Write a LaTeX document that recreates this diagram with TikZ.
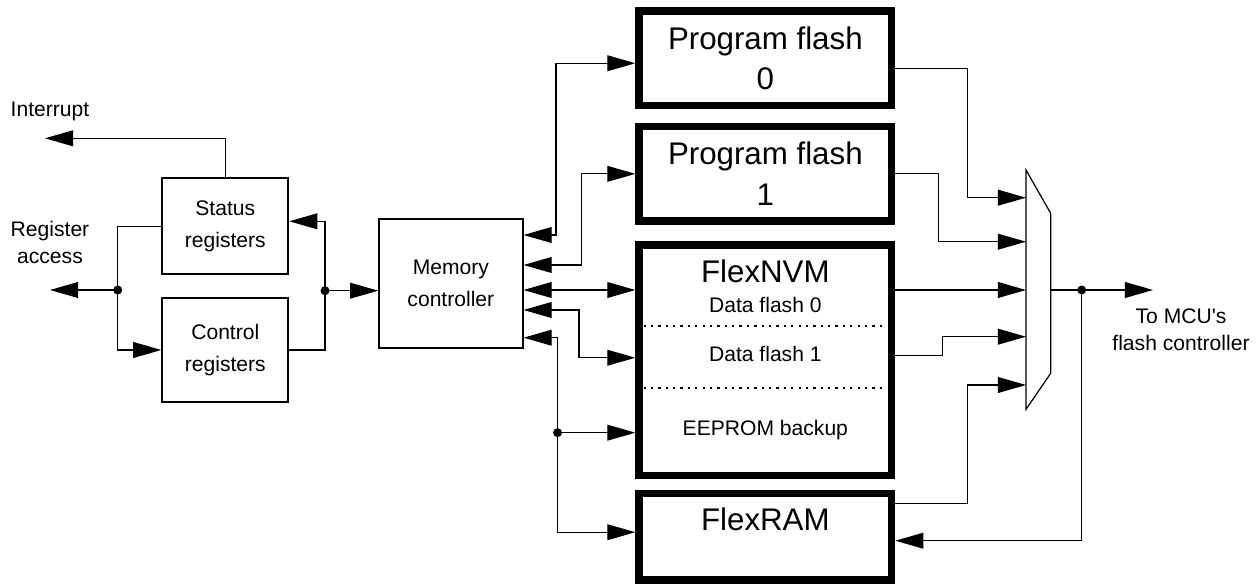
\documentclass[tikz,border=0pt]{standalone}
\usepackage{fontspec}
\setmainfont{Liberation Sans}
\usetikzlibrary{arrows.meta,calc}

\begin{document}
\begin{tikzpicture}[
        >={Triangle[length=16pt,width=9pt]},
        regbox/.style={draw, line width=1.1pt, align=center, inner sep=0pt,
            font=\fontsize{12}{18}\selectfont},
        memblock/.style={draw, line width=4.25pt, minimum width=5.05cm, align=center,
            inner sep=0pt, font=\fontsize{17.8}{23}\selectfont},
        bigtext/.style={font=\fontsize{17.8}{23}\selectfont},
        smalltext/.style={font=\fontsize{12}{15.5}\selectfont, align=center},
        wire/.style={line width=0.7pt},
        sep/.style={line width=1.3pt, dash pattern=on 1.3pt off 2.9pt}
    ]
        \useasboundingbox (0,0) rectangle (25.2,11.68);

        % register side
        \node[regbox, minimum width=2.52cm, minimum height=1.92cm] (status) at (4.506,7.154) {Status\\registers};
        \node[regbox, minimum width=2.52cm, minimum height=2.07cm] (control) at (4.506,4.68) {Control\\registers};
        \node[regbox, minimum width=2.87cm, minimum height=2.59cm] (mc) at (9.017,6.007) {Memory\\controller};

        \node[smalltext] (intlabel) at (1.0,9.45) {Interrupt};
        \node[smalltext] (reglabel) at (1.0,6.83) {Register\\access};

        \coordinate (intr) at (0.9,8.914);
        \coordinate (regacc) at (1.0,5.88);
        \coordinate (dotL) at (2.354,5.88);
        \coordinate (dotR) at (6.5,5.866);

        \draw[wire,->] (status.north) |- (intr);
        \draw[wire,->] (dotL) -- (regacc);
        \draw[wire] (dotL) |- (status.west);
        \draw[wire,->] (dotL) |- (control.west);
        \draw[wire] (control.east) -| (dotR);
        \draw[wire,->] (dotR) |- ([yshift=0.1cm]status.east);
        \draw[wire,->] (dotR) -- (dotR -| mc.west);
        \fill (dotL) circle (0.09);
        \fill (dotR) circle (0.09);

        % memories
        \node[memblock, minimum height=1.89cm] (pf0) at (15.307,10.515) {Program flash\\0};
        \node[memblock, minimum height=1.89cm] (pf1) at (15.307,8.203) {Program flash\\1};
        \node[memblock, minimum height=4.61cm] (nvm) at (15.307,4.475) {};
        \node[memblock, minimum height=1.73cm] (ram) at (15.307,0.946) {};

        \node[bigtext] (nvmname) at (15.307,6.246) {FlexNVM};
        \node[smalltext] (df0) at (15.307,5.58) {Data flash 0};
        \node[smalltext] (df1) at (15.307,4.606) {Data flash 1};
        \node[smalltext] (eeprom) at (15.307,3.08) {EEPROM backup};
        \node[bigtext] (ramname) at (15.307,1.3) {FlexRAM};

        \draw[sep] (12.87,5.16) -- (17.74,5.16);
        \draw[sep] (12.87,3.926) -- (17.74,3.926);

        \coordinate (mc1) at ([yshift=0.973cm]mc.east);
        \coordinate (mc2) at ([yshift=0.373cm]mc.east);
        \coordinate (mc3) at ([yshift=-0.127cm]mc.east);
        \coordinate (mc4) at ([yshift=-0.527cm]mc.east);
        \coordinate (mc5) at ([yshift=-1.081cm]mc.east);
        \coordinate (dotM) at ($(mc5)+(0.68,-1.9)$);

        \draw[wire,<->] (mc1) -- ++(0.65,0) |- ([yshift=-0.1cm]pf0.west);
        \draw[wire,<->] (mc2) -- ++(1.16,0) |- (pf1.west);
        \draw[wire,<->] (mc3) -- (mc3 -| nvm.west);
        \draw[wire,<->] (mc4) -- ++(1.11,0) |- ([yshift=0.05cm]nvm.west);
        \draw[wire,<->] (mc5) -- ++(0.68,0) |- ([yshift=0.09cm]ram.west);
        \draw[wire,->] (dotM) -- (dotM -| nvm.west);
        \fill (dotM) circle (0.09);

        % output mux
        \draw[wire] (20.52,8.28) -- (21.014,7.414) -- (21.014,4.214) -- (20.52,3.494) -- cycle;
        \coordinate (in1) at (20.52,7.726);
        \coordinate (in2) at (20.52,6.846);
        \coordinate (in3) at (20.52,5.88);
        \coordinate (in4) at (20.52,4.946);
        \coordinate (in5) at (20.52,3.98);
        \coordinate (muxout) at (21.014,5.88);
        \coordinate (dotO) at (21.634,5.88);
        \coordinate (mcu) at (23.06,5.88);

        \draw[wire,->] ([yshift=-0.2cm]pf0.east) -- ++(1.445,0) |- (in1);
        \draw[wire,->] (pf1.east) -- ++(0.87,0) |- (in2);
        \draw[wire,->] (in3 -| nvm.east) -- (in3);
        \draw[wire,->] ([yshift=0.1cm]nvm.east) -- ++(0.94,0) |- (in4);
        \draw[wire,->] ([yshift=0.67cm]ram.east) -- ++(1.445,0) |- (in5);
        \draw[wire,->] (muxout) -- (mcu);
        \draw[wire,->] (dotO) |- ([yshift=-0.08cm]ram.east);
        \fill (dotO) circle (0.09);

        \node[smalltext] (mculabel) at (23.62,5.08) {To MCU\textquotesingle s\\flash controller};
    \end{tikzpicture}
\end{document}
